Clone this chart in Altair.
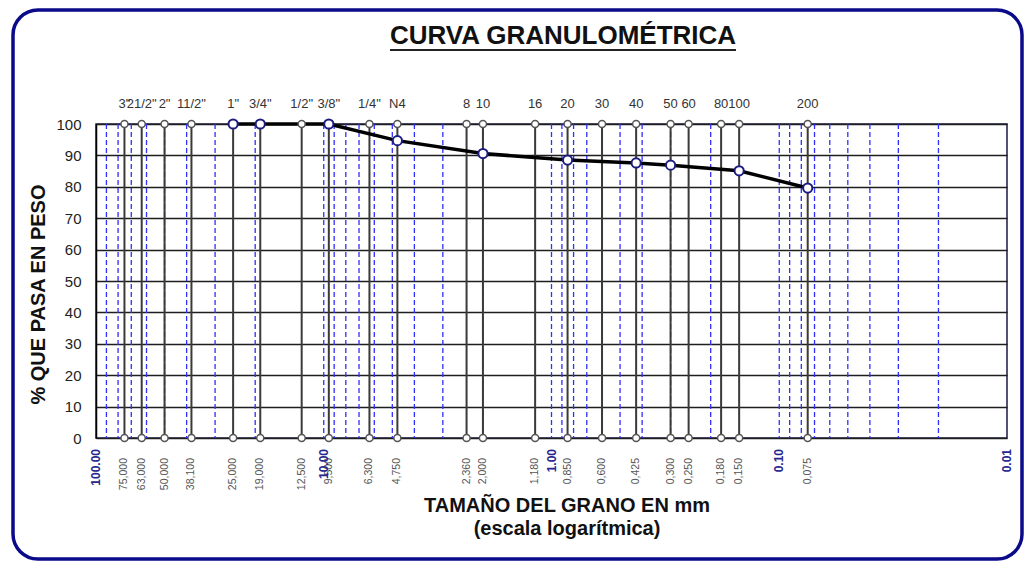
import altair as alt
import pandas as pd

# ---------------- data ----------------
sieve_names = ['3"', '21/2"', '2"', '11/2"', '1"', '3/4"', '1/2"', '3/8"', '1/4"', 'N4',
               '8', '10', '16', '20', '30', '40', '50', '60', '80', '100', '200']
sieve_mm = [75, 63, 50, 38.1, 25, 19, 12.5, 9.5, 6.3, 4.75,
            2.36, 2.0, 1.18, 0.85, 0.6, 0.425, 0.3, 0.25, 0.18, 0.15, 0.075]
sieve_text = ['75,000', '63,000', '50,000', '38,100', '25,000', '19,000', '12,500', '9,500',
              '6,300', '4,750', '2,360', '2,000', '1,180', '0,850', '0,600', '0,425',
              '0,300', '0,250', '0,180', '0,150', '0,075']

curve_mm = [25, 19, 9.5, 4.75, 2.0, 0.85, 0.425, 0.3, 0.15, 0.075]
curve_pct = [100, 100, 100, 94.7, 90.6, 88.5, 87.6, 86.9, 85.1, 79.6]

decade_mm = [100, 10, 1, 0.1, 0.01]
decade_text = ['100.00', '10.00', '1.00', '0.10', '0.01']

# log-paper minor grid positions (2..9 x each decade) plus inner decades
minor_mm = [m * 10.0 ** e for e in (-2, -1, 0, 1) for m in range(2, 10)] + [0.1, 1, 10]
y_ticks = list(range(0, 101, 10))

title_text = 'CURVA GRANULOMÉTRICA'
xtitle_1 = 'TAMAÑO DEL GRANO EN mm'
xtitle_2 = '(escala logarítmica)'
ytitle = '% QUE PASA EN PESO'

# ---------------- tables ----------------
sieves = pd.DataFrame({'size': sieve_mm, 'name': sieve_names, 'txt': sieve_text})
sieve_pts = pd.DataFrame({'size': sieve_mm * 2, 'pct': [100] * len(sieve_mm) + [0] * len(sieve_mm)})
curve = pd.DataFrame({'size': curve_mm, 'pct': curve_pct})
decades = pd.DataFrame({'size': decade_mm, 'txt': decade_text})
minor = pd.DataFrame({'size': minor_mm})
one = pd.DataFrame({'t': [title_text], 'x1': [xtitle_1], 'x2': [xtitle_2]})

W, H = 911, 314
FONT = 'Liberation Sans'

xscale = alt.Scale(type='log', domain=[0.01, 100], reverse=True, nice=False)
yscale = alt.Scale(domain=[0, 100], nice=False, zero=False)
yaxis = alt.Axis(values=y_ticks, grid=True, gridColor='#1e1e1e', gridWidth=1.6,
                 ticks=False, labelPadding=15, labelFontSize=15, labelColor='#222222',
                 domain=True, domainColor='#000000', domainWidth=1.5,
                 title=ytitle, titleFontSize=20, titleFontWeight='bold', titleColor='#111111',
                 titleX=-58, titleY=170, titleAngle=270, titleAlign='center',
                 titleBaseline='middle')


def X():
    return alt.X('size:Q', scale=xscale, axis=None)


def Y():
    return alt.Y('pct:Q', scale=yscale, axis=yaxis)


frame = alt.Chart(one).mark_rect(
    fill='white', fillOpacity=0, stroke='#0a0a8a', strokeWidth=3.5, cornerRadius=25
).encode(x=alt.value(-83), x2=alt.value(926), y=alt.value(-114), y2=alt.value(435))

minor_rules = alt.Chart(minor).mark_rule(
    color='#2f2fff', strokeDash=[5, 3], strokeWidth=1.3
).encode(x=X())

sieve_rules = alt.Chart(sieves).mark_rule(color='#3a3a3a', strokeWidth=2).encode(x=X())

line = alt.Chart(curve).mark_line(color='black', strokeWidth=3.5).encode(x=X(), y=Y())

sieve_circles = alt.Chart(sieve_pts).mark_point(
    shape='circle', filled=True, fill='white', stroke='#555555', strokeWidth=1.5,
    size=50, opacity=1
).encode(x=X(), y=Y())

curve_circles = alt.Chart(curve).mark_point(
    shape='circle', filled=True, fill='white', stroke='#1c1c80', strokeWidth=2,
    size=85, opacity=1
).encode(x=X(), y=Y())

top_labels = alt.Chart(sieves).mark_text(
    fontSize=13, color='#333333', align='center', baseline='alphabetic', font=FONT
).encode(x=X(), y=alt.value(-16), text='name:N')

bottom_labels = alt.Chart(sieves).mark_text(
    fontSize=10.5, color='#555555', angle=270, align='right', baseline='middle', font=FONT
).encode(x=X(), y=alt.value(334), text='txt:N')

decade_labels = alt.Chart(decades).mark_text(
    fontSize=12, fontWeight='bold', color='#26268f', angle=270, align='right',
    baseline='middle', font=FONT
).encode(x=X(), y=alt.value(325), text='txt:N')

title = alt.Chart(one).mark_text(
    fontSize=26, fontWeight='bold', color='#111111', align='center',
    baseline='alphabetic', font=FONT
).encode(x=alt.value(467), y=alt.value(-80), text='t:N')

underline = alt.Chart(one).mark_rule(color='#222222', strokeWidth=2).encode(
    x=alt.value(294), x2=alt.value(640), y=alt.value(-74))

xt1 = alt.Chart(one).mark_text(
    fontSize=20, fontWeight='bold', color='#111111', align='center',
    baseline='alphabetic', font=FONT
).encode(x=alt.value(471), y=alt.value(388), text='x1:N')

xt2 = alt.Chart(one).mark_text(
    fontSize=20, fontWeight='bold', color='#111111', align='center',
    baseline='alphabetic', font=FONT
).encode(x=alt.value(471), y=alt.value(411), text='x2:N')

chart = alt.layer(
    frame, minor_rules, sieve_rules, line, sieve_circles, curve_circles,
    top_labels, bottom_labels, decade_labels, title, underline, xt1, xt2
).properties(
    width=W, height=H,
    autosize=alt.AutoSizeParams(type='none'),
    padding={'left': 88, 'top': 116, 'right': 17, 'bottom': 123},
).configure(
    font=FONT
).configure_view(
    stroke='#1a1a4a', strokeWidth=1.5
)

chart.save("out.html", embed_options={"renderer": "svg", "actions": False})
